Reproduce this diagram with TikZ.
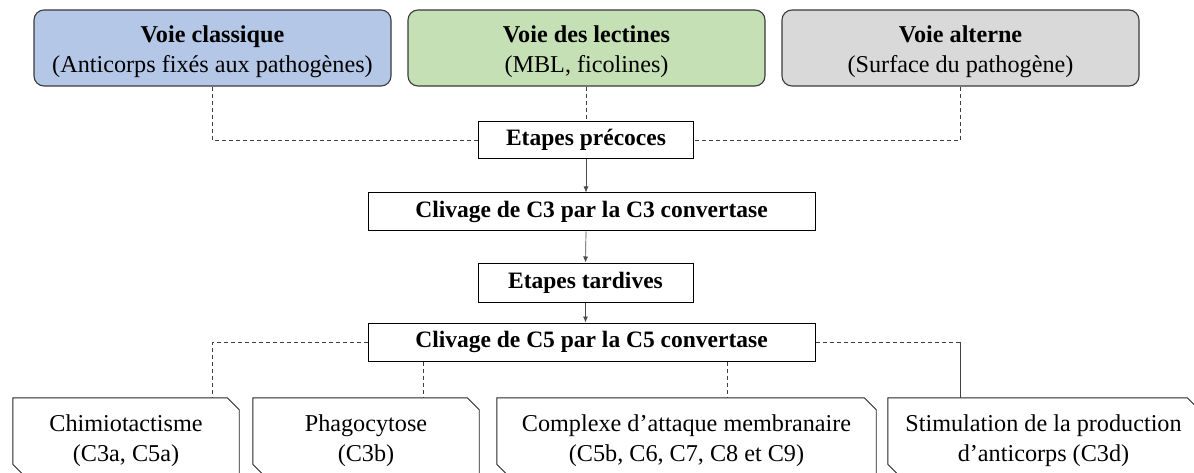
\documentclass[tikz,border=0pt]{standalone}
\usepackage{fontspec}
\setmainfont{Liberation Serif}
\usepackage{tikz}
\usetikzlibrary{arrows.meta}

\definecolor{classblue}{HTML}{B4C7E7}
\definecolor{lectgreen}{HTML}{C5E0B4}
\definecolor{altgray}{HTML}{D9D9D9}
\definecolor{edgegray}{HTML}{3A3A3A}

\newcommand\hautligne{\rule{0pt}{25pt}}

\tikzset{
  voie/.style={draw=edgegray, line width=1.1pt, rounded corners=10pt,
    minimum width=357pt, minimum height=76pt, inner sep=0pt, align=center},
  etape/.style={draw=black, line width=1pt, fill=white, inner sep=0pt, align=center,
    font=\fontsize{23.5}{29.5}\selectfont\bfseries},
  effet/.style={minimum height=78pt, inner sep=0pt, align=center},
  coin/.style={draw=black!85, line width=0.9pt},
  pointille/.style={draw=black!75, line width=0.8pt, dash pattern=on 4pt off 3pt},
  fleche/.style={draw=black!70, line width=0.7pt, -{Latex[length=6pt,width=5pt]}}
}

\begin{document}
\begin{tikzpicture}[x=1pt, y=-1pt, font=\fontsize{24.2}{30}\selectfont]

        \clip (0,0) rectangle (1194,473);
        \fill[white] (0,0) rectangle (1194,473);

        % les trois voies
        \begin{scope}[every node/.style={voie}]
          \node[fill=classblue] (cla) at (212.5,48) {\hautligne\textbf{Voie classique}\\(Anticorps fixés aux pathogènes)};
          \node[fill=lectgreen] (lec) at (586.5,48) {\hautligne\textbf{Voie des lectines}\\(MBL, ficolines)};
          \node[fill=altgray]   (alt) at (960.5,48) {\hautligne\textbf{Voie alterne}\\(Surface du pathogène)};
        \end{scope}

        % etapes
        \begin{scope}[every node/.style={etape}]
          \node[minimum width=215pt, minimum height=37pt] (pre) at (586,140)   {Etapes précoces};
          \node[minimum width=447pt, minimum height=38pt] (c3)  at (591.5,212) {Clivage de C3 par la C3 convertase};
          \node[minimum width=215pt, minimum height=39pt] (tar) at (585.5,282.5) {Etapes tardives};
          \node[minimum width=447pt, minimum height=38pt] (c5)  at (591.5,342) {Clivage de C5 par la C5 convertase};
        \end{scope}

        % effets
        \begin{scope}[every node/.style={effet}]
          \node[minimum width=226pt] (chi) at (126,437)    {\hautligne Chimiotactisme\\(C3a, C5a)};
          \node[minimum width=226pt] (pha) at (366,437)    {\hautligne Phagocytose\\(C3b)};
          \node[minimum width=379pt] (mac) at (686.5,437)  {\hautligne Complexe d’attaque membranaire\\(C5b, C6, C7, C8 et C9)};
          \node[minimum width=311pt] (sti) at (1043.5,437) {\hautligne Stimulation de la production\\d’anticorps (C3d)};
        \end{scope}
        \foreach \n in {chi,pha,mac,sti}
          \draw[coin] (\n.north west) -- ([xshift=-12pt]\n.north east) -- ([yshift=-12pt]\n.north east)
            -- (\n.south east) -- ([xshift=12pt]\n.south west) -- ([yshift=12pt]\n.south west) -- cycle;

        \coordinate (xpha) at (423,0);
        \coordinate (xmac) at (727,0);

        \begin{scope}[every path/.style={pointille}]
          \path (cla.south) |- (pre.west);
          \path (lec.south) -- (pre.north -| lec.south);
          \path (alt.south) |- (pre.east);
          \path (c5.west) -| (chi.north -| cla.south);
          \path (c5.south -| xpha) -- (pha.north -| xpha);
          \path (c5.south -| xmac) -- (mac.north -| xmac);
          \path (c5.east) -- (c5.east -| alt.south);
        \end{scope}
        \draw[black!75, line width=0.8pt] (c5.east -| alt.south) -- (sti.north -| alt.south);

        \begin{scope}[every path/.style={fleche}]
          \path (pre.south) -- (pre.south |- c3.north);
          \path (c3.south -| pre.south) -- (tar.north);
          \path (tar.south) -- (tar.south |- c5.north);
        \end{scope}
      \end{tikzpicture}
\end{document}
